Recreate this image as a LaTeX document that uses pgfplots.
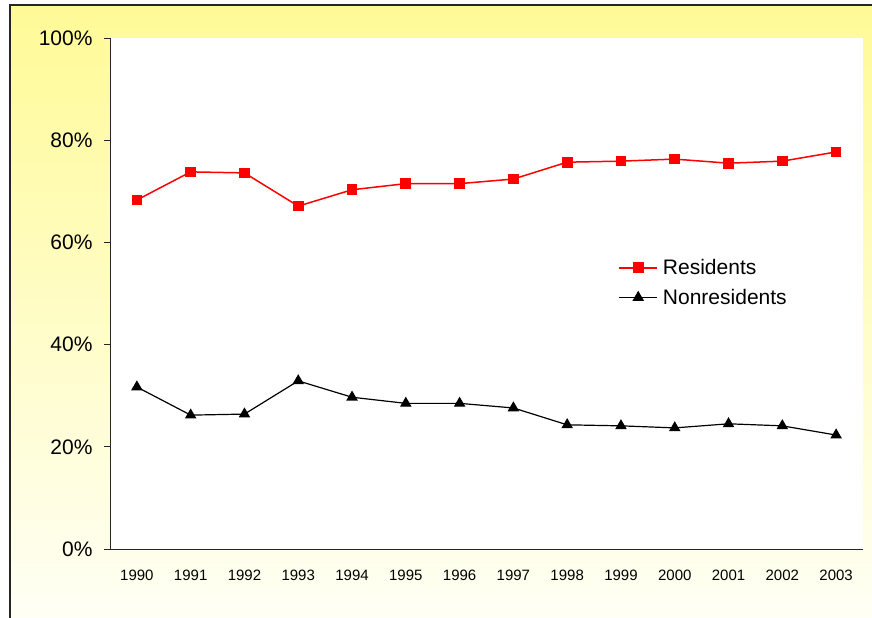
\documentclass[border=0pt]{standalone}
\usepackage{pgfplots}
\pgfplotsset{compat=1.18}
\usepackage{fontspec}
\setmainfont{Liberation Sans}
\definecolor{bgtop}{RGB}{255,250,150}
\definecolor{bgbot}{RGB}{255,255,246}
\definecolor{resred}{RGB}{255,0,0}
\begin{document}
\begin{tikzpicture}
\useasboundingbox (-110bp,-69bp) rectangle (762bp,549bp);
\shade[top color=bgtop, bottom color=bgbot] (-100bp,-75bp) rectangle (770bp,544bp);
\draw[line width=1.2bp, black!85] (-100bp,-75bp) -- (-100bp,544bp) -- (770bp,544bp);
\begin{axis}[
  at={(0,0)}, anchor=south west,
  scale only axis, width=753bp, height=511bp,
  xmin=-0.5, xmax=13.5, ymin=0, ymax=100,
  axis x line=bottom, axis y line=left, axis line style={-, line width=0.9bp, black!85},
  axis background/.style={fill=white},
  xtick={0,...,13},
  xticklabels={1990,1991,1992,1993,1994,1995,1996,1997,1998,1999,2000,2001,2002,2003},
  x tick style={draw=none},
  ytick={0,20,40,60,80,100},
  yticklabels={0\%,20\%,40\%,60\%,80\%,100\%},
  tick align=outside, major tick length=6bp,
  y tick style={line width=0.9bp, black!85},
  /pgf/number format/assume math mode=true,
  xticklabel style={font=\fontsize{15bp}{17bp}\selectfont, yshift=-12bp},
  yticklabel style={font=\fontsize{21bp}{24bp}\selectfont, xshift=-8bp},
  legend style={at={(0.675,0.571)}, anchor=north west, draw=none, fill=none,
    font=\fontsize{21bp}{24bp}\selectfont, row sep=9bp, inner sep=0pt,
    nodes={inner xsep=5bp}},
  legend cell align=left,
  legend image code/.code={\draw[mark repeat=2,mark phase=2] plot coordinates {(0bp,0bp) (19bp,0bp) (38bp,0bp)};},
  clip=false,
]
\addplot[color=resred, line width=1.5bp, mark=square*, mark size=4.6bp, mark options={solid, fill=resred}]
coordinates {(0,68.3) (1,73.8) (2,73.6) (3,67.1) (4,70.3) (5,71.5) (6,71.5) (7,72.4) (8,75.7) (9,75.9) (10,76.3) (11,75.5) (12,75.9) (13,77.7)};
\addlegendentry{Residents}
\addplot[color=black, line width=1.2bp, mark=triangle*, mark size=5.5bp, mark options={solid, fill=black}]
coordinates {(0,31.7) (1,26.2) (2,26.4) (3,32.9) (4,29.7) (5,28.5) (6,28.5) (7,27.6) (8,24.3) (9,24.1) (10,23.7) (11,24.5) (12,24.1) (13,22.3)};
\addlegendentry{Nonresidents}
\end{axis}
\end{tikzpicture}
\end{document}
